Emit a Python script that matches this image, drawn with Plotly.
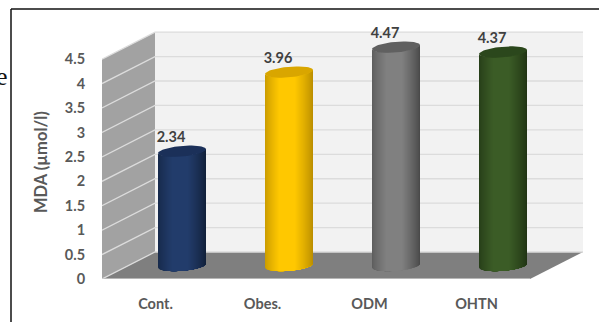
import numpy as np
import plotly.graph_objects as go

# Values and labels
categories = ["Cont.", "Obes.", "ODM", "OHTN"]
mda_values = [2.34, 3.96, 4.47, 4.37]
y_ticks = [0, 0.5, 1, 1.5, 2, 2.5, 3, 3.5, 4, 4.5]
y_tick_labels = ["0", "0.5", "1", "1.5", "2", "2.5", "3", "3.5", "4", "4.5"]
y_title = "MDA (µmol/l)"

# Cylinder shading: centre, left edge, right edge, cap
body_colours = ["#223c6b", "#ffc800", "#808080", "#3b5c26"]
left_colours = ["#16294a", "#c89a00", "#5c5c5c", "#263d18"]
right_colours = ["#111f38", "#b88c00", "#474747", "#1f3213"]
cap_colours = ["#1b3059", "#d9a600", "#606060", "#2b471c"]

# Page layout in pixels
W, H = 599, 322
LEFT, RIGHT, TOP, BOTTOM = 102, 583, 18, 279
UNIT_X = 107.0   # pixels per category
UNIT_Y = 48.85   # pixels per y unit

# Oblique depth of the chart box, in axis units
DEPTH_X = 53 / UNIT_X
DEPTH_Y = 27 / UNIT_Y
X0 = -0.5
X1 = 3.5
Y_MAX_AXIS = (BOTTOM - TOP) / UNIT_Y
Y_WALL = y_ticks[-1]

# Cylinder radii, in axis units
RAD_X = 24 / UNIT_X
RAD_Y = 5.3 / UNIT_Y
TILT_Y = 2.0 / UNIT_Y
STRIPS = 48


def mix(c1, c2, t):
    a = [int(c1[i:i + 2], 16) for i in (1, 3, 5)]
    b = [int(c2[i:i + 2], 16) for i in (1, 3, 5)]
    return "rgb({},{},{})".format(*[round(p + (q - p) * t) for p, q in zip(a, b)])


def polygon(xs, ys, colour):
    return go.Scatter(
        x=list(xs), y=list(ys), mode="lines", fill="toself", fillcolor=colour,
        line=dict(color=colour, width=0),
        hoverinfo="skip", showlegend=False,
    )


fig = go.Figure()

# Back wall, side wall and floor
fig.add_trace(polygon(
    [X0 + DEPTH_X, X1 + DEPTH_X, X1 + DEPTH_X, X0 + DEPTH_X],
    [DEPTH_Y, DEPTH_Y, Y_WALL + DEPTH_Y, Y_WALL + DEPTH_Y], "#f2f2f2"))
fig.add_trace(polygon(
    [X0, X0 + DEPTH_X, X0 + DEPTH_X, X0],
    [0, DEPTH_Y, Y_WALL + DEPTH_Y, Y_WALL], "#a2a2a2"))
fig.add_trace(polygon(
    [X0, X1, X1 + DEPTH_X, X0 + DEPTH_X],
    [0, 0, DEPTH_Y, DEPTH_Y], "#7f7f7f"))

# Gridlines across both walls
for tick in y_ticks:
    fig.add_trace(go.Scatter(
        x=[X0, X0 + DEPTH_X, X1 + DEPTH_X],
        y=[tick, tick + DEPTH_Y, tick + DEPTH_Y],
        mode="lines", line=dict(color="#dcdcdc", width=1.3),
        hoverinfo="skip", showlegend=False,
    ))
fig.add_trace(go.Scatter(
    x=[X0, X1], y=[0, 0], mode="lines", line=dict(color="#c8c8c8", width=1.5),
    hoverinfo="skip", showlegend=False,
))

# Cylinders: each strip runs from its left edge to the right side of the body,
# so later strips paint over earlier ones and no seams show between them.
edges = np.linspace(-1, 1, STRIPS + 1)[:-1]
for i, value in enumerate(mda_values):
    cx = i + DEPTH_X / 2
    cy = DEPTH_Y / 2
    for k, edge in enumerate(edges):
        tm = np.linspace(np.arccos(edge), 0, 30)
        dx = RAD_X * np.cos(tm)
        arc = TILT_Y * np.cos(tm) - RAD_Y * np.sin(tm)
        pos = (k + 0.5) / STRIPS
        if pos < 0.5:
            colour = mix(left_colours[i], body_colours[i], min(1, pos / 0.3) ** 0.8)
        else:
            colour = mix(right_colours[i], body_colours[i], min(1, (1 - pos) / 0.38) ** 0.8)
        xs = np.r_[cx + dx, (cx + dx)[::-1]]
        ys = np.r_[cy + arc, (cy + value + arc)[::-1]]
        fig.add_trace(polygon(xs, ys, colour))
    t = np.linspace(0, 2 * np.pi, 61)
    fig.add_trace(polygon(
        cx + RAD_X * np.cos(t),
        cy + value + TILT_Y * np.cos(t) + RAD_Y * np.sin(t),
        cap_colours[i]))

# Value labels above the caps
fig.add_trace(go.Scatter(
    x=[i + DEPTH_X / 2 - 11 / UNIT_X for i in range(len(mda_values))],
    y=[v + DEPTH_Y / 2 + 13 / UNIT_Y for v in mda_values],
    text=[f"{v:.2f}" for v in mda_values],
    mode="text", textposition="middle center",
    textfont=dict(family="Lato", size=14.5, color="#404040", weight="bold"),
    hoverinfo="skip", showlegend=False,
))

fig.update_layout(
    width=W, height=H,
    margin=dict(l=LEFT, r=W - RIGHT, t=TOP, b=H - BOTTOM, autoexpand=False),
    paper_bgcolor="white", plot_bgcolor="white",
    font=dict(family="Lato"),
    xaxis=dict(
        range=[X0, X1 + DEPTH_X], tickmode="array",
        tickvals=list(range(len(categories))), ticktext=categories,
        showgrid=False, zeroline=False, showline=False, ticks="outside",
        ticklen=12, tickcolor="rgba(0,0,0,0)",
        tickfont=dict(family="Lato", size=14.5, color="#595959", weight="bold"),
    ),
    yaxis=dict(
        range=[0, Y_MAX_AXIS], tickmode="array", tickvals=y_ticks,
        ticktext=y_tick_labels, showgrid=False, zeroline=False, showline=False,
        ticks="outside", ticklen=13, tickcolor="rgba(0,0,0,0)",
        tickfont=dict(family="Lato", size=14.5, color="#595959", weight="bold"),
    ),
    # Outer frame
    shapes=[
        dict(type="line", xref="paper", yref="paper",
             x0=(11 - LEFT) / (RIGHT - LEFT), x1=(W - LEFT) / (RIGHT - LEFT),
             y0=(BOTTOM - 9) / (BOTTOM - TOP), y1=(BOTTOM - 9) / (BOTTOM - TOP),
             line=dict(color="#111111", width=1.5)),
        dict(type="line", xref="paper", yref="paper",
             x0=(11 - LEFT) / (RIGHT - LEFT), x1=(11 - LEFT) / (RIGHT - LEFT),
             y0=(BOTTOM - 9) / (BOTTOM - TOP), y1=(BOTTOM - H) / (BOTTOM - TOP),
             line=dict(color="#111111", width=1.5)),
    ],
    annotations=[
        dict(text=y_title, xref="paper", yref="paper", showarrow=False, textangle=-90,
             x=(41 - LEFT) / (RIGHT - LEFT), y=(BOTTOM - 162) / (BOTTOM - TOP),
             xanchor="center", yanchor="middle",
             font=dict(family="Lato", size=16.5, color="#595959", weight="bold")),
        dict(text="e", xref="paper", yref="paper", showarrow=False,
             x=(-6 - LEFT) / (RIGHT - LEFT), y=(BOTTOM - 76) / (BOTTOM - TOP),
             xanchor="left", yanchor="middle",
             font=dict(family="Liberation Serif", size=26, color="#111111")),
    ],
)

fig.write_html("out.html", config=dict(displayModeBar=False))
